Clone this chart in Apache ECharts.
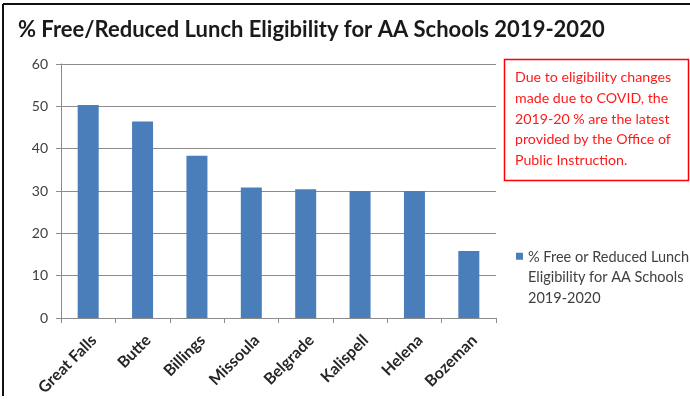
<!DOCTYPE html>
<html>
<head>
<meta charset="utf-8">
<script src="https://cdn.jsdelivr.net/npm/echarts@6/dist/echarts.min.js"></script>
<style>
html,body{margin:0;padding:0;background:#fff;}
#chart{width:690px;height:400px;}
</style>
</head>
<body>
<div id="chart"></div>
<script>
const titleText = '% Free/Reduced Lunch Eligibility for AA Schools 2019-2020';
const categories = ['Great Falls','Butte','Billings','Missoula','Belgrade','Kalispell','Helena','Bozeman'];
const seriesName = '% Free or Reduced Lunch Eligibility for AA Schools 2019-2020';
const legendLines = ['% Free or Reduced Lunch','Eligibility for AA Schools','2019-2020'];
const values = [50.3, 46.4, 38.3, 30.8, 30.4, 30.0, 30.0, 15.8];
const yTicks = [0, 10, 20, 30, 40, 50, 60];
const noteLines = ['Due to eligibility changes','made due to COVID, the','2019-20 % are the latest','provided by the Office of','Public Instruction.'];

const FONT = 'Lato, "Open Sans", sans-serif';
const chart = echarts.init(document.getElementById('chart'), null, {renderer:'canvas'});
chart.setOption({
  backgroundColor:'#fff',
  animation:false,
  title:{
    text:titleText, left:13, top:14,
    textStyle:{fontFamily:FONT, fontSize:22, fontWeight:'bold', color:'#1a1a1a'}
  },
  grid:{left:61, right:194, top:64, bottom:82},
  legend:{
    left:511, top:242, orient:'vertical',
    itemWidth:7, itemHeight:50,
    icon:'path://M0,0H7V7H0ZM0,49.99H0.01V50H0Z',
    formatter:()=>legendLines.join('\n'),
    textStyle:{fontFamily:FONT, fontSize:14.5, color:'#404040', lineHeight:20.5}
  },
  xAxis:{
    type:'category', data:categories,
    axisLine:{lineStyle:{color:'#8c8c8c', width:1}},
    axisTick:{show:true, length:5, lineStyle:{color:'#8c8c8c'}},
    axisLabel:{rotate:45, interval:0, margin:14, verticalAlign:'top', fontFamily:FONT, fontSize:16, fontWeight:'bold', color:'#262626'}
  },
  yAxis:{
    type:'value', min:yTicks[0], max:yTicks[yTicks.length-1], interval:10,
    axisLine:{show:true, lineStyle:{color:'#8c8c8c'}},
    axisTick:{show:true, length:5, lineStyle:{color:'#8c8c8c'}},
    splitLine:{lineStyle:{color:'#8c8c8c', width:1}},
    axisLabel:{margin:13, fontFamily:FONT, fontSize:14, color:'#404040'}
  },
  series:[{
    type:'bar', name:seriesName, data:values, barWidth:21,
    itemStyle:{color:'#4a7ebb'}
  }],
  graphic:[
    {type:'line', shape:{x1:3, y1:4, x2:690, y2:4}, style:{stroke:'#111', lineWidth:2}},
    {type:'line', shape:{x1:3, y1:4, x2:3, y2:396}, style:{stroke:'#111', lineWidth:2}},
    {type:'rect', shape:{x:504.5, y:59.5, width:184, height:121}, style:{fill:'#fff', stroke:'#ff0000', lineWidth:1.5}},
    {type:'text', left:515, top:67, style:{text:noteLines.join('\n'), fontFamily:FONT, fontSize:14.2, lineHeight:20.8, fill:'#ff1a1a'}}
  ]
});
</script>
</body>
</html>
